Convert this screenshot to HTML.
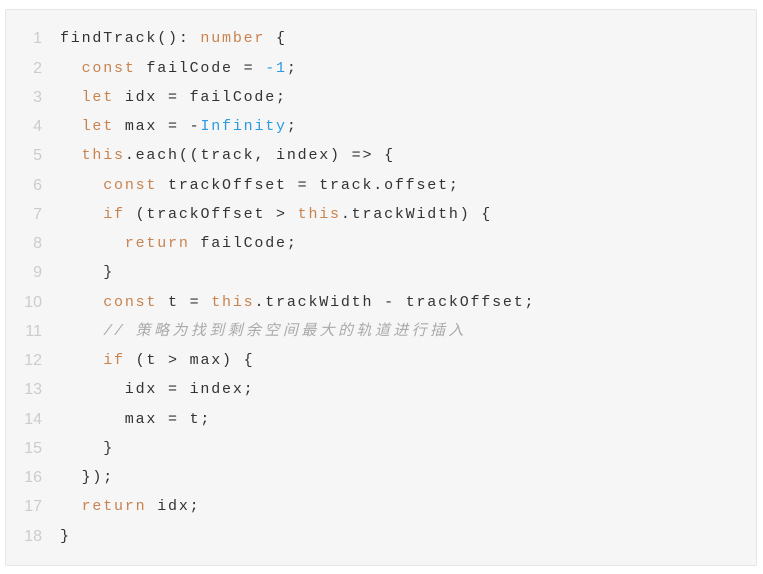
<!DOCTYPE html>
<html><head><meta charset="utf-8"><style>
body{margin:0;background:#fff;width:763px;height:574px;overflow:hidden}
.box{position:absolute;left:5px;top:9px;width:750px;height:555px;background:#f6f6f6;border:1px solid #e6e6e6;border-radius:2px}
.l{position:absolute;left:0;height:29.24px;line-height:29.24px;font-family:"Liberation Mono","Noto Sans CJK SC",monospace;font-size:15px;letter-spacing:1.8px;color:#333;white-space:pre}
.n{position:absolute;left:0;width:42px;text-align:right;color:#ccc;font-family:"Liberation Sans",sans-serif;font-size:16px;letter-spacing:0}
.c{position:absolute;left:60px}
.k{color:#c8834f}.b{color:#2a9be0}.m{color:#aaa;font-style:italic}
.cj{letter-spacing:3.4px;font-family:"Liberation Mono","Noto Sans CJK SC",sans-serif}
</style></head><body>
<div class="box"></div>
<div class="l" style="top:24.4px"><span class="n">1</span><span class="c">findTrack(): <span class="k">number</span> {</span></div>
<div class="l" style="top:53.6px"><span class="n">2</span><span class="c">  <span class="k">const</span> failCode = <span class="b">-1</span>;</span></div>
<div class="l" style="top:82.9px"><span class="n">3</span><span class="c">  <span class="k">let</span> idx = failCode;</span></div>
<div class="l" style="top:112.1px"><span class="n">4</span><span class="c">  <span class="k">let</span> max = -<span class="b">Infinity</span>;</span></div>
<div class="l" style="top:141.4px"><span class="n">5</span><span class="c">  <span class="k">this</span>.each((track, index) =&gt; {</span></div>
<div class="l" style="top:170.6px"><span class="n">6</span><span class="c">    <span class="k">const</span> trackOffset = track.offset;</span></div>
<div class="l" style="top:199.8px"><span class="n">7</span><span class="c">    <span class="k">if</span> (trackOffset &gt; <span class="k">this</span>.trackWidth) {</span></div>
<div class="l" style="top:229.1px"><span class="n">8</span><span class="c">      <span class="k">return</span> failCode;</span></div>
<div class="l" style="top:258.3px"><span class="n">9</span><span class="c">    }</span></div>
<div class="l" style="top:287.6px"><span class="n">10</span><span class="c">    <span class="k">const</span> t = <span class="k">this</span>.trackWidth - trackOffset;</span></div>
<div class="l" style="top:316.8px"><span class="n">11</span><span class="c">    <span class="m">// <span class="cj">策略为找到剩余空间最大的轨道进行插入</span></span></span></div>
<div class="l" style="top:346.0px"><span class="n">12</span><span class="c">    <span class="k">if</span> (t &gt; max) {</span></div>
<div class="l" style="top:375.3px"><span class="n">13</span><span class="c">      idx = index;</span></div>
<div class="l" style="top:404.5px"><span class="n">14</span><span class="c">      max = t;</span></div>
<div class="l" style="top:433.8px"><span class="n">15</span><span class="c">    }</span></div>
<div class="l" style="top:463.0px"><span class="n">16</span><span class="c">  });</span></div>
<div class="l" style="top:492.2px"><span class="n">17</span><span class="c">  <span class="k">return</span> idx;</span></div>
<div class="l" style="top:521.5px"><span class="n">18</span><span class="c">}</span></div>
</body></html>
